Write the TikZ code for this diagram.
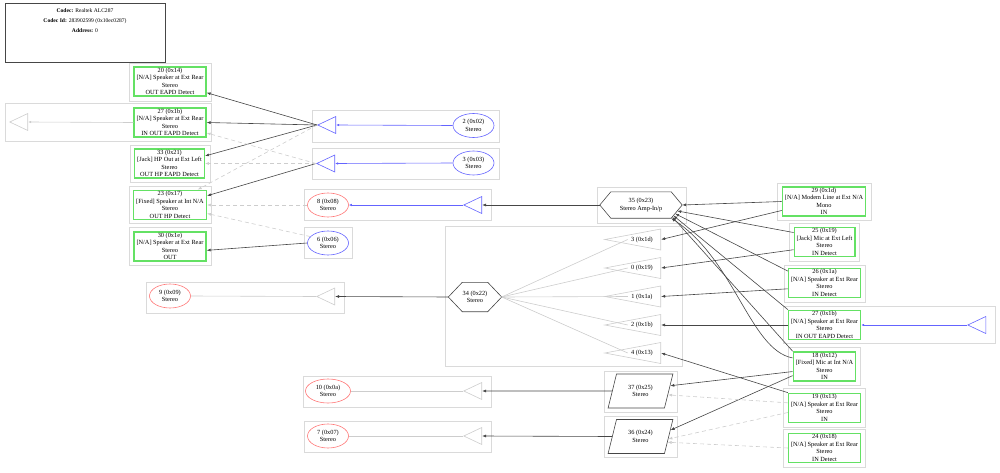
\documentclass[tikz,border=0pt]{standalone}
\usepackage{fontspec}
\setmainfont{Liberation Serif}
\usetikzlibrary{shapes.geometric,arrows.meta,calc,positioning}

\definecolor{pingreen}{RGB}{100,225,100}
\definecolor{dacblue}{RGB}{100,100,255}
\definecolor{adcred}{RGB}{255,120,120}
\definecolor{grpgray}{RGB}{218,218,218}
\definecolor{wiregray}{RGB}{70,70,70}
\definecolor{idlegray}{RGB}{205,205,205}

\tikzset{
  pinbox/.style={draw=pingreen, line width=1.4pt, align=center, inner xsep=2.5pt, inner ysep=1.2pt},
  grp/.style={draw=grpgray, line width=0.7pt},
  amp/.style={isosceles triangle, isosceles triangle stretches=true, shape border rotate=180,
    anchor=apex, inner sep=0pt, minimum width=17pt, minimum height=18pt, line width=0.6pt},
  mixamp/.style={amp, draw=idlegray, minimum width=21pt, minimum height=56pt},
  conv/.style={ellipse, align=center, inner sep=0pt, minimum width=41pt, minimum height=24pt, line width=0.6pt},
  mix/.style={align=center, inner sep=0pt},
  sel/.style={trapezium, trapezium left angle=70, trapezium right angle=110, trapezium stretches=true,
    draw=wiregray, align=center, inner sep=0pt, minimum width=65pt, minimum height=34pt, line width=0.6pt},
  wire/.style={draw=wiregray, line width=0.6pt, -{Latex[length=4pt,width=3pt]}},
  bluewire/.style={draw=dacblue, line width=0.6pt, -{Latex[length=3pt,width=2.5pt]}},
  off/.style={draw=idlegray, line width=0.6pt, dash pattern=on 4pt off 3pt, -{Latex[length=4pt,width=3pt]}},
  idle/.style={draw=idlegray, line width=0.6pt},
}
% hexagon outline round a node, corner inset #2
\newcommand{\hexout}[2]{%
  \draw[wiregray, line width=0.6pt] (#1.west) -- ([xshift=#2]#1.north west)
    -- ([xshift=-#2]#1.north east) -- (#1.east) -- ([xshift=-#2]#1.south east)
    -- ([xshift=#2]#1.south west) -- cycle;
  \coordinate (#1-br) at ([xshift=-#2]#1.south east);}

\begin{document}
\begin{tikzpicture}[x=1pt,y=-1pt,every node/.style={font=\fontsize{6.3}{7.5}\selectfont}]
\useasboundingbox (0,0) rectangle (1000,473);

% codec header
\node[draw=wiregray, line width=0.6pt, minimum width=160pt, minimum height=59pt] (hdr) at (85,32.5) {};
\node[below=5pt of hdr.north, align=center, inner sep=1pt, font=\fontsize{5.6}{10}\selectfont] (hdrtxt)
  {\textbf{Codec:} Realtek ALC287\\\textbf{Codec Id:} 283902599 (0x10ec0287)\\\textbf{Address:} 0};

% groups
\foreach \xa/\ya/\xb/\yb in {129/63/211/101, 5/103/211/141, 130/145/210/182, 129/186/211/223,
    129/227/211/265, 312/110/499/142, 312/148/499/179, 304/189/491/220, 304/227/352/258,
    146/282/344/313, 445/226/682/366, 597/187/686/223, 777/183/871/220, 789/223/859/261,
    784/265/865/302, 783/306/995/343, 788/347/860/385, 783/388/865/427, 783/429/865/467,
    303/376/491/407, 304/421/491/452, 604/371/677/412, 604/416/677/457}
  \draw[grp] (\xa,\ya) rectangle (\xb,\yb);

% pins, left
\node[pinbox] (p20) at (170,81.5) {20 (0x14)\\{[N/A]} Speaker at Ext Rear\\Stereo\\OUT EAPD Detect};
\node[pinbox] (p27L) at (170,122.5) {27 (0x1b)\\{[N/A]} Speaker at Ext Rear\\Stereo\\IN OUT EAPD Detect};
\node[pinbox] (p33) at (169.5,163.5) {33 (0x21)\\{[Jack]} HP Out at Ext Left\\Stereo\\OUT HP EAPD Detect};
\node[pinbox] (p23) at (170,205) {23 (0x17)\\{[Fixed]} Speaker at Int N/A\\Stereo\\OUT HP Detect};
\node[pinbox] (p30) at (170,246.5) {30 (0x1e)\\{[N/A]} Speaker at Ext Rear\\Stereo\\OUT};

% pins, right
\node[pinbox] (p29) at (824,201.5) {29 (0x1d)\\{[N/A]} Modem Line at Ext N/A\\Mono\\IN};
\node[pinbox] (p25) at (824.5,242) {25 (0x19)\\{[Jack]} Mic at Ext Left\\Stereo\\IN Detect};
\node[pinbox] (p26) at (824.5,283) {26 (0x1a)\\{[N/A]} Speaker at Ext Rear\\Stereo\\IN Detect};
\node[pinbox] (p27R) at (824.5,325) {27 (0x1b)\\{[N/A]} Speaker at Ext Rear\\Stereo\\IN OUT EAPD Detect};
\node[pinbox] (p18) at (824.5,366.5) {18 (0x12)\\{[Fixed]} Mic at Int N/A\\Stereo\\IN};
\node[pinbox] (p19) at (824.5,408) {19 (0x13)\\{[N/A]} Speaker at Ext Rear\\Stereo\\IN};
\node[pinbox] (p24) at (824.5,448) {24 (0x18)\\{[N/A]} Speaker at Ext Rear\\Stereo\\IN Detect};

% converters
\node[conv, draw=dacblue] (e2) at (473.5,125.5) {2 (0x02)\\Stereo};
\node[conv, draw=dacblue] (e3) at (473.5,163) {3 (0x03)\\Stereo};
\node[conv, draw=adcred] (e8) at (328,205) {8 (0x08)\\Stereo};
\node[conv, draw=dacblue] (e6) at (328,243) {6 (0x06)\\Stereo};
\node[conv, draw=adcred] (e9) at (170,296) {9 (0x09)\\Stereo};
\node[conv, draw=adcred, minimum width=45pt] (e10) at (328,391) {10 (0x0a)\\Stereo};
\node[conv, draw=adcred] (e7) at (328,436) {7 (0x07)\\Stereo};

% amps
\node[amp, draw=idlegray] (a27L) at (9,122) {};
\node[amp, draw=dacblue] (a2) at (317,125) {};
\node[amp, draw=dacblue] (a3) at (316,163.5) {};
\node[amp, draw=dacblue] (a8) at (463,205) {};
\node[amp, draw=idlegray] (a9) at (316,296.5) {};
\node[amp, draw=idlegray] (a10) at (463,391) {};
\node[amp, draw=idlegray] (a7) at (463,436) {};
\node[amp, draw=dacblue] (a27R) at (967,325) {};

% mixers and selectors
\node[mix, minimum width=82pt, minimum height=26pt] (h35) at (641,205) {35 (0x23)\\Stereo Amp-In/p};
\hexout{h35}{11pt}
\node[mix, minimum width=53pt, minimum height=29pt] (h34) at (475,297) {34 (0x22)\\Stereo};
\hexout{h34}{14pt}
\node[sel] (q37) at (640.5,391) {37 (0x25)\\Stereo};
\node[sel] (q36) at (640.5,436.5) {36 (0x24)\\Stereo};

\node[mixamp] (t1d) at (604,239.5) {};
\node[mixamp] (t19) at (604,268) {};
\node[mixamp] (t1a) at (604,296.5) {};
\node[mixamp] (t1b) at (604,325) {};
\node[mixamp] (t13) at (604,353) {};
\node (l1d) at (642,239.5) {3 (0x1d)};
\node (l19) at (642,268) {0 (0x19)};
\node (l1a) at (642,296.5) {1 (0x1a)};
\node (l1b) at (642,325) {2 (0x1b)};
\node (l13) at (642,353) {4 (0x13)};

% left wiring
\draw[wire] (a2.apex) -- (p20.-17);
\draw[wire] (a2.apex) -- (p27L.east);
\draw[wire] (a2.apex) -- (p33.12);
\draw[wire] (a3.apex) -- (p23.14);
\draw[off] (a2.apex) -- (p23.29);
\draw[off] (a3.apex) -- (p27L.-16);
\draw[off] (a3.apex) -- (p33.east);
\draw[off] (e8.west) -- (p23.east);
\draw[off] (e6.160) -- (p23.-13);
\draw[wire] (e6.west) -- (p30.-6);
\draw[idle, -{Latex[length=3pt,width=2.5pt]}] (p27L.west) -- (a27L.lower side);
\draw[bluewire] (e2.west) -- (a2.lower side);
\draw[bluewire] (e3.west) -- (a3.lower side);
\draw[bluewire] (a8.apex) -- (e8.east);
\draw[wire] (h35.west) -- (a8.lower side);
\draw[idle] (e9.east) -- (a9.apex);
\draw[wire] (h34.west) -- (a9.lower side);
\draw[idle] (e10.east) -- (a10.apex);
\draw[idle] (e7.east) -- (a7.apex);
\draw[wire] (q37.west) -- (a10.lower side);
\draw[wire] (q36.west) -- (a7.lower side);
\foreach \t in {l1d,l19,l1a,l1b,l13}
  \draw[idle] (h34.east) -- (\t.west);

% right wiring
\draw[wire] (p29.west) -- (h35.east);
\draw[wire] (p25.163) -- ($(h35.east)!.45!(h35-br)$);
\draw[wire] (p26.162) -- ($(h35.east)!.65!(h35-br)$);
\draw[wire] (p27R.north west) -- ($(h35.east)!.8!(h35-br)$);
\draw[wire] (p18.north west) -- ($(h35.east)!.9!(h35-br)$);
\draw[wire] (p18.165) .. controls (750,350) and (735,260) .. (h35-br);
\draw[wire] (p29.192) -- (t1d.lower side);
\draw[wire] (p25.194) -- (t19.lower side);
\draw[wire] (p26.189) -- (t1a.lower side);
\draw[wire] (p27R.west) -- (t1b.lower side);
\draw[wire] (p19.north west) -- (t13.lower side);
\draw[wire] (p18.189) -- (q37.10);
\draw[wire] (p18.196) -- (q36.12);
\draw[off] (p19.172) -- (q37.-8);
\draw[off] (p19.187) -- (q36.-5);
\draw[off] (p24.west) -- (q36.-12);
\draw[bluewire] (a27R.apex) -- (p27R.east);
\end{tikzpicture}
\end{document}
